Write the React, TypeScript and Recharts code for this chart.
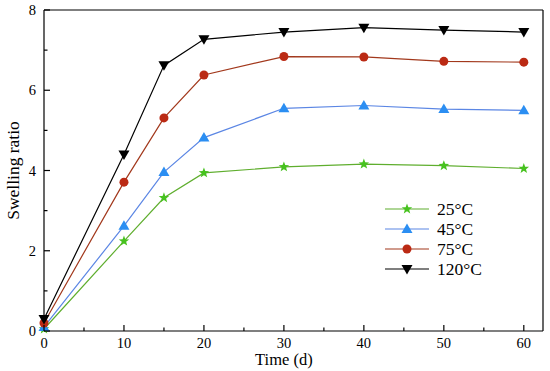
import React from "react";
import {
  LineChart,
  Line,
  XAxis,
  YAxis,
  ReferenceLine,
} from "recharts";

const days = [0, 10, 15, 20, 30, 40, 50, 60];
const t25 = [0.05, 2.24, 3.32, 3.94, 4.09, 4.16, 4.12, 4.05];
const t45 = [0.1, 2.62, 3.96, 4.82, 5.55, 5.62, 5.53, 5.5];
const t75 = [0.2, 3.71, 5.31, 6.38, 6.84, 6.83, 6.72, 6.7];
const t120 = [0.3, 4.4, 6.62, 7.27, 7.45, 7.56, 7.5, 7.45];

const xTicks = [0, 5, 10, 15, 20, 25, 30, 35, 40, 45, 50, 55, 60];
const yTicks = [0, 1, 2, 3, 4, 5, 6, 7, 8];
const X_MAX = 62.4;
const Y_MAX = 8;

const data = days.map((d, i) => ({
  day: d,
  t25: t25[i],
  t45: t45[i],
  t75: t75[i],
  t120: t120[i],
}));

const FONT = "'Liberation Serif', 'Times New Roman', serif";

type Shape = "star" | "up" | "circle" | "down";

const series: { key: string; name: string; line: string; fill: string; shape: Shape }[] = [
  { key: "t25", name: "25°C", line: "#5fae2e", fill: "#47c21f", shape: "star" },
  { key: "t45", name: "45°C", line: "#5b86e4", fill: "#2b8ef2", shape: "up" },
  { key: "t75", name: "75°C", line: "#a2381c", fill: "#bb2a14", shape: "circle" },
  { key: "t120", name: "120°C", line: "#000000", fill: "#000000", shape: "down" },
];

const Marker = ({ cx, cy, shape, fill }: { cx: number; cy: number; shape: Shape; fill: string }) => {
  if (shape === "circle") return <circle cx={cx} cy={cy} r={4.5} fill={fill} />;
  if (shape === "up")
    return <polygon points={`${cx},${cy - 5.5} ${cx - 5.5},${cy + 4} ${cx + 5.5},${cy + 4}`} fill={fill} />;
  if (shape === "down")
    return <polygon points={`${cx},${cy + 5.5} ${cx - 5.5},${cy - 4} ${cx + 5.5},${cy - 4}`} fill={fill} />;
  const pts: string[] = [];
  for (let i = 0; i < 10; i++) {
    const r = i % 2 === 0 ? 5.5 : 2.3;
    const a = -Math.PI / 2 + (i * Math.PI) / 5;
    pts.push(`${cx + r * Math.cos(a)},${cy + r * Math.sin(a)}`);
  }
  return <polygon points={pts.join(" ")} fill={fill} />;
};

const XTick = (props: any) => {
  const { x, y, payload } = props;
  const major = payload.value % 10 === 0;
  return (
    <g>
      <line x1={x} y1={y} x2={x} y2={y - (major ? 6 : 3.5)} stroke="#000" strokeWidth={1.2} />
      {major && (
        <text x={x} y={y + 16.5} textAnchor="middle" fontSize={14.5} fontFamily={FONT} fill="#000">
          {payload.value}
        </text>
      )}
    </g>
  );
};

const YTick = (props: any) => {
  const { x, y, payload } = props;
  const major = payload.value % 2 === 0;
  return (
    <g>
      <line x1={x} y1={y} x2={x + (major ? 6 : 3.5)} y2={y} stroke="#000" strokeWidth={1.2} />
      {major && (
        <text x={x - 8} y={y + 5} textAnchor="end" fontSize={14.5} fontFamily={FONT} fill="#000">
          {payload.value}
        </text>
      )}
    </g>
  );
};

// legend drawn on top of the chart, outside recharts layout
const LegendBox = () => (
  <svg width={140} height={84} style={{ position: "absolute", left: 385, top: 199 }}>
    {series.map((s, i) => {
      const cy = 10 + i * 20;
      return (
        <g key={s.key}>
          <line x1={0} y1={cy} x2={44} y2={cy} stroke={s.line} strokeWidth={1.2} />
          <Marker cx={22} cy={cy} shape={s.shape} fill={s.fill} />
          <text x={52} y={cy + 6} fontSize={17.5} fontFamily={FONT} fill="#000">
            {s.name}
          </text>
        </g>
      );
    })}
  </svg>
);

export default function App() {
  return (
    <div style={{ position: "absolute", left: 0, top: 0, width: 550, height: 371, background: "#fff" }}>
      <LineChart width={550} height={371} data={data} margin={{ top: 10, right: 7, left: 4, bottom: 10 }}>
        <XAxis
          dataKey="day"
          type="number"
          domain={[0, X_MAX]}
          ticks={xTicks}
          interval={0}
          height={30}
          tickSize={0}
          tickMargin={0}
          tick={<XTick />}
          axisLine={{ stroke: "#000", strokeWidth: 1.2 }}
          label={{
            content: (p: any) => {
              const vb = p.viewBox;
              return (
                <text
                  x={vb.x + (vb.width * 30) / X_MAX}
                  y={vb.y + 33.5}
                  textAnchor="middle"
                  fontSize={16.5}
                  fontFamily={FONT}
                  fill="#000"
                >
                  Time (d)
                </text>
              );
            },
          }}
        />
        <YAxis
          type="number"
          domain={[0, Y_MAX]}
          ticks={yTicks}
          interval={0}
          width={40}
          tickSize={0}
          tickMargin={0}
          tick={<YTick />}
          axisLine={{ stroke: "#000", strokeWidth: 1.2 }}
          label={{
            content: (p: any) => {
              const vb = p.viewBox;
              const cx = vb.x + 15;
              const cy = vb.y + vb.height / 2;
              return (
                <text
                  x={cx}
                  y={cy}
                  transform={`rotate(-90, ${cx}, ${cy})`}
                  textAnchor="middle"
                  fontSize={17.5}
                  fontFamily={FONT}
                  fill="#000"
                >
                  Swelling ratio
                </text>
              );
            },
          }}
        />
        <ReferenceLine y={Y_MAX} stroke="#000" strokeWidth={1.2} ifOverflow="visible" />
        <ReferenceLine x={X_MAX} stroke="#000" strokeWidth={1.2} ifOverflow="visible" />
        {series.map((s) => (
          <Line
            key={s.key}
            dataKey={s.key}
            name={s.name}
            type="linear"
            stroke={s.line}
            strokeWidth={1.2}
            isAnimationActive={false}
            dot={(p: any) => <Marker key={`${s.key}-${p.index}`} cx={p.cx} cy={p.cy} shape={s.shape} fill={s.fill} />}
            activeDot={false}
          />
        ))}
      </LineChart>
      <LegendBox />
    </div>
  );
}
